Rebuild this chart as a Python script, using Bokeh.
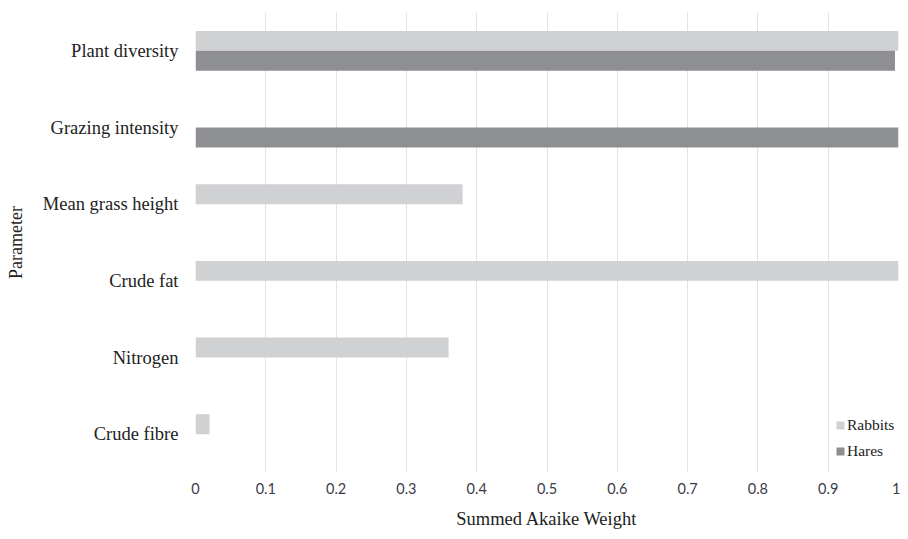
from bokeh.plotting import figure
from bokeh.models import FactorRange, Range1d, ColumnDataSource, FixedTicker, Legend, LegendItem
from bokeh.transform import dodge
from bokeh.embed import file_html
from bokeh.resources import INLINE

categories = ["Plant diversity", "Grazing intensity", "Mean grass height", "Crude fat", "Nitrogen", "Crude fibre"]
rabbits = [1.0, 0.0, 0.38, 1.0, 0.36, 0.02]
hares = [0.995, 1.0, 0.0, 0.0, 0.0, 0.0]
x_ticks = [0, 0.1, 0.2, 0.3, 0.4, 0.5, 0.6, 0.7, 0.8, 0.9, 1.0]
x_tick_labels = ["0", "0.1", "0.2", "0.3", "0.4", "0.5", "0.6", "0.7", "0.8", "0.9", "1"]

source = ColumnDataSource(dict(cat=categories, rabbits=rabbits, hares=hares))

p = figure(
    width=900, height=532,
    y_range=FactorRange(factors=list(reversed(categories)), range_padding=0),
    x_range=Range1d(0, 1),
    output_backend="svg", toolbar_location=None,
    min_border_left=195, min_border_right=2, min_border_top=12, min_border_bottom=60,
)
p.frame_width = 703
p.frame_height = 460

r1 = p.hbar(y=dodge("cat", 0.13, range=p.y_range), right="rabbits", left=0, height=0.26,
            source=source, fill_color="#D0D1D3", line_color=None)
r2 = p.hbar(y=dodge("cat", -0.13, range=p.y_range), right="hares", left=0, height=0.26,
            source=source, fill_color="#8E8F93", line_color=None)

p.outline_line_color = None
p.ygrid.grid_line_color = None
p.xgrid.grid_line_color = "#E2E2E2"
p.xgrid.grid_line_width = 1

p.xaxis.ticker = FixedTicker(ticks=x_ticks)
p.xaxis.major_label_overrides = {t: l for t, l in zip(x_ticks, x_tick_labels)}
for ax in (p.xaxis, p.yaxis):
    ax.axis_line_color = None
    ax.major_tick_line_color = None
    ax.minor_tick_line_color = None
    ax.major_tick_out = 0
    ax.major_tick_in = 0

p.xaxis.major_label_text_font = "Lato"
p.xaxis.major_label_text_font_size = "14.5px"
p.xaxis.major_label_text_color = "#3c3c48"
p.xaxis.major_label_standoff = 10
p.xaxis.axis_label = "Summed Akaike Weight"
p.xaxis.axis_label_text_font = "Liberation Serif"
p.xaxis.axis_label_text_font_style = "normal"
p.xaxis.axis_label_text_font_size = "18.5px"
p.xaxis.axis_label_text_color = "#222222"
p.xaxis.axis_label_standoff = 12

p.yaxis.major_label_text_font = "Liberation Serif"
p.yaxis.major_label_text_font_size = "18.5px"
p.yaxis.major_label_text_color = "#222222"
p.yaxis.major_label_standoff = 17
p.yaxis.axis_label = "Parameter"
p.yaxis.axis_label_text_font = "Liberation Serif"
p.yaxis.axis_label_text_font_style = "normal"
p.yaxis.axis_label_text_font_size = "18px"
p.yaxis.axis_label_text_color = "#222222"
p.yaxis.axis_label_standoff = 14

legend = Legend(items=[LegendItem(label="Rabbits", renderers=[r1]),
                       LegendItem(label="Hares", renderers=[r2])],
                location=(640, 11))
legend.border_line_color = None
legend.background_fill_alpha = 0
legend.padding = 0
legend.margin = 0
legend.glyph_width = 10
legend.glyph_height = 10
legend.label_standoff = 2
legend.label_height = 20
legend.spacing = 6
legend.label_text_font = "Liberation Serif"
legend.label_text_font_size = "15.5px"
legend.label_text_color = "#222222"
p.add_layout(legend)

open("out.html", "w").write(file_html(p, INLINE))
